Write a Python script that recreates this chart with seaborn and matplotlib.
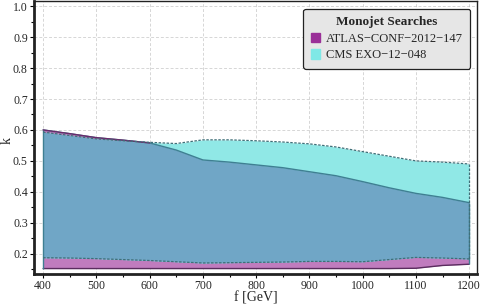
import numpy as np
import matplotlib
matplotlib.use("Agg")
import matplotlib.pyplot as plt
import seaborn as sns
from matplotlib.patches import Patch
from matplotlib.ticker import MultipleLocator

# mass scale f [GeV]
f_vals = [400, 450, 500, 550, 600, 650, 700, 750, 800, 850, 900, 950, 1000, 1050, 1100, 1150, 1200]

# ATLAS-CONF-2012-147 excluded band in k
atlas_upper = [0.600, 0.588, 0.575, 0.567, 0.558, 0.535, 0.503, 0.496, 0.487, 0.478, 0.465, 0.452,
               0.433, 0.413, 0.395, 0.382, 0.365]
atlas_lower = [0.152, 0.152, 0.152, 0.152, 0.152, 0.152, 0.152, 0.152, 0.152, 0.152, 0.152, 0.152,
               0.152, 0.152, 0.153, 0.162, 0.166]

# CMS EXO-12-048 excluded band in k
cms_upper = [0.593, 0.582, 0.571, 0.565, 0.560, 0.556, 0.568, 0.568, 0.565, 0.561, 0.555, 0.545,
             0.530, 0.515, 0.500, 0.496, 0.490]
cms_lower = [0.187, 0.186, 0.184, 0.181, 0.178, 0.174, 0.170, 0.171, 0.172, 0.173, 0.175, 0.175,
             0.174, 0.181, 0.188, 0.186, 0.183]

labels = ["ATLAS\u2212CONF\u22122012\u2212147", "CMS EXO\u221212\u2212048"]

sns.set_theme(style="ticks")
plt.rcParams["font.family"] = ["Liberation Serif", "DejaVu Serif"]

c_atlas = "#c07cbe"
c_cms = "#90e8e6"
c_both = "#70a6c6"

x = np.array(f_vals)
au, al = np.array(atlas_upper), np.array(atlas_lower)
cu, cl = np.array(cms_upper), np.array(cms_lower)

fig = plt.figure(figsize=(4.8, 3.08), dpi=100)
ax = fig.add_axes([0.071, 0.110, 0.923, 0.887])

ax.fill_between(x, al, au, color=c_atlas, lw=0, zorder=2)
ax.fill_between(x, cl, cu, color=c_cms, lw=0, zorder=2)
ax.fill_between(x, np.maximum(al, cl), np.minimum(au, cu), color=c_both, lw=0, zorder=3)

# boundaries
sns.lineplot(x=f_vals, y=atlas_upper, ax=ax, color="#3f7f92", lw=1.0, zorder=4)
sns.lineplot(x=f_vals, y=atlas_lower, ax=ax, color="#5a2d5e", lw=1.0, zorder=4)
sns.lineplot(x=f_vals, y=cms_upper, ax=ax, color="#3f6f78", lw=0.9, ls=(0, (2, 1.2)), zorder=5)
sns.lineplot(x=f_vals, y=cms_lower, ax=ax, color="#3f6f78", lw=0.9, ls=(0, (2, 1.2)), zorder=5)
ax.vlines([f_vals[0]], atlas_lower[0], atlas_upper[0], color="#3f7f92", lw=1.0, zorder=4)
ax.vlines([f_vals[-1]], atlas_lower[-1], atlas_upper[-1], color="#3f7f92", lw=1.0, zorder=4)
ax.vlines([f_vals[-1]], cms_upper[-1], cms_lower[-1], color="#3f6f78", lw=0.9, ls=(0, (2, 1.2)), zorder=5)
# short segment at top-left where ATLAS edge is above CMS
ax.plot(x[:5], au[:5], color="#6b2a6b", lw=1.0, zorder=4)

ax.set_xlim(383, 1215)
ax.set_ylim(0.134, 1.017)
ax.xaxis.set_major_locator(MultipleLocator(100))
ax.xaxis.set_minor_locator(MultipleLocator(50))
ax.yaxis.set_major_locator(MultipleLocator(0.1))
ax.yaxis.set_minor_locator(MultipleLocator(0.05))
ax.set_xticks(range(400, 1201, 100))
ax.set_yticks(np.round(np.arange(0.2, 1.01, 0.1), 1))
ax.set_yticklabels([f"{v:.1f}" for v in np.arange(0.2, 1.01, 0.1)])

ax.grid(True, which="major", color="#b4b4b4", ls=(0, (3, 2)), lw=0.7, zorder=1)
for line in ax.get_xgridlines() + ax.get_ygridlines():
    line.set_zorder(6)
    line.set_alpha(0.55)

ax.tick_params(which="major", direction="out", length=3, width=0.8, labelsize=8.5, pad=1.5, color="black")
ax.tick_params(which="minor", direction="out", length=2, width=0.8, color="black")
for side in ["left", "bottom"]:
    ax.spines[side].set_linewidth(2.0)
for side in ["top", "right"]:
    ax.spines[side].set_linewidth(1.0)
for s in ax.spines.values():
    s.set_color("#222222")
    s.set_zorder(10)

ax.set_xlabel("f [GeV]", fontsize=10)
ax.set_ylabel("k", fontsize=10)
ax.xaxis.set_label_coords(0.50, -0.062)
ax.yaxis.set_label_coords(-0.046, 0.49)

handles = [Patch(facecolor="#9a2f98", edgecolor="#9a2f98"),
           Patch(facecolor="#7fe8e6", edgecolor="#7fe8e6")]
leg = ax.legend(handles, labels, title="Monojet Searches", loc="upper right",
                bbox_to_anchor=(0.993, 0.985), fontsize=9, title_fontsize=9.5,
                frameon=True, fancybox=True, handlelength=0.7, handleheight=0.8,
                handletextpad=0.5, borderpad=0.6, labelspacing=0.35, borderaxespad=0.3)
leg.get_title().set_fontweight("bold")
frame = leg.get_frame()
frame.set_facecolor("#e6e6e6")
frame.set_edgecolor("#222222")
frame.set_linewidth(0.9)
frame.set_alpha(1)
leg.set_zorder(20)

fig.savefig("out.png", dpi=100)
